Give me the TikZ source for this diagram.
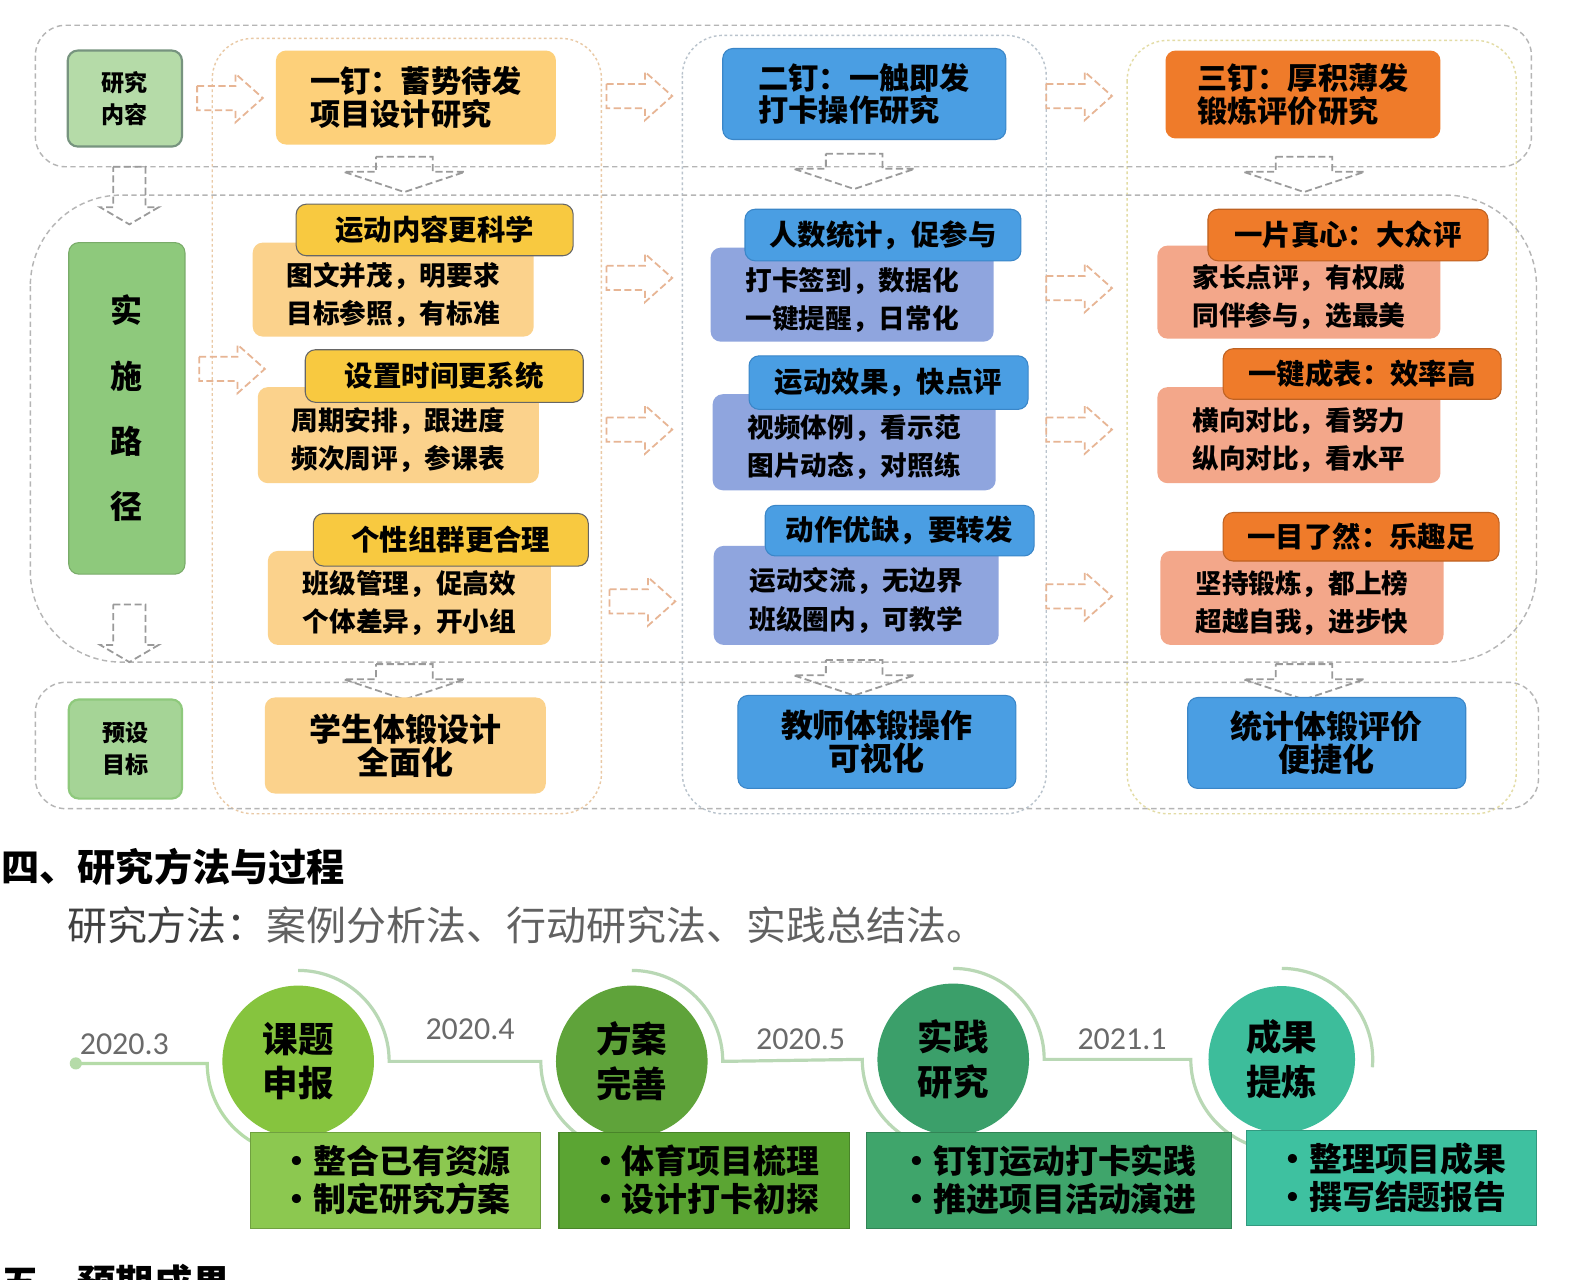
\documentclass[tikz,border=0pt]{standalone}
\usepackage{fontspec}
\setmainfont{Noto Sans CJK SC}
\newfontfamily\datefont{Carlito}
\usetikzlibrary{calc}
\definecolor{framegray}{HTML}{B5B5B5}
\definecolor{colA}{HTML}{E9C9A5}
\definecolor{colB}{HTML}{B9C3CC}
\definecolor{colC}{HTML}{E3DCA5}
\definecolor{arrowtan}{HTML}{E7B594}
\definecolor{arrowgray}{HTML}{9A9A9A}
\definecolor{greenlt}{HTML}{B5DBA8}
\definecolor{greenltb}{HTML}{77947F}
\definecolor{greenmd}{HTML}{8EC97C}
\definecolor{ylw}{HTML}{FDD07A}
\definecolor{gold}{HTML}{F8C940}
\definecolor{ltorg}{HTML}{FBD28C}
\definecolor{blu}{HTML}{4A9EE3}
\definecolor{blub}{HTML}{3A86C8}
\definecolor{peri}{HTML}{8FA5DE}
\definecolor{orng}{HTML}{EF7B2A}
\definecolor{salmon}{HTML}{F3A78A}
\definecolor{cgA}{HTML}{86C43E}
\definecolor{cgB}{HTML}{5FA33A}
\definecolor{cgC}{HTML}{3B9F6A}
\definecolor{cgD}{HTML}{3DBD9B}
\definecolor{bxA}{HTML}{8CC850}
\definecolor{bxB}{HTML}{5BA533}
\definecolor{bxC}{HTML}{3FA56B}
\definecolor{bxD}{HTML}{3EC1A0}
\definecolor{ringc}{HTML}{B9D8B5}
\definecolor{dategray}{HTML}{6A6A6A}
\newcommand\fs[2]{\fontsize{#1}{#2}\selectfont\bfseries}
\newcommand\bx[7]{\node[#6, minimum width={(#4-#2)*0.02cm}, minimum height={(#5-#3)*0.02cm}] (#1) at ({(#2+#4)/2},{(#3+#5)/2}) {#7};}
\newcommand\cx[7]{\node[#6, minimum width={(#4-#2)*0.02cm}, minimum height={(#5-#3)*0.02cm}] (#1) at ({(#2+#4)/2},{(#3+#5)/2}) {};
  \node[cnttext] (#1txt) at ($(#1.center)+(0,5)$) {#7};}
\newcommand\myRA[2]{\draw[harr] (#1,#2-12) -- (#1+38,#2-12) -- (#1+38,#2-24) -- (#1+65,#2) -- (#1+38,#2+24) -- (#1+38,#2+12) -- (#1,#2+12) -- cycle;}
\newcommand\myWDA[2]{\draw[darr] (#1-28,#2) -- (#1+28,#2) -- (#1+28,#2+15) -- (#1+60,#2+15) -- (#1,#2+35) -- (#1-60,#2+15) -- (#1-28,#2+15) -- cycle;}
\newcommand\myNDA[2]{\draw[darr] (#1-16,#2) -- (#1+16,#2) -- (#1+16,#2+40) -- (#1+29,#2+40) -- (#1,#2+57) -- (#1-29,#2+40) -- (#1-16,#2+40) -- cycle;}
\tikzset{
  rowframe/.style={draw=framegray, dash pattern=on 3pt off 2pt, line width=0.8pt},
  colframe/.style={dash pattern=on 1.5pt off 1.5pt, line width=0.8pt},
  harr/.style={draw=arrowtan, dash pattern=on 4pt off 2pt, line width=1pt},
  darr/.style={draw=arrowgray, dash pattern=on 4pt off 2pt, line width=1pt},
  box/.style={rounded corners=0.2cm, inner sep=0pt, align=center},
  greenbox/.style={box, fill=greenlt, draw=greenltb, line width=1.2pt, font={\fs{13}{18}}},
  greenbig/.style={box, fill=greenmd, draw=greenmd!85!black, line width=0.6pt, font={\fs{18}{36.8}}},
  topbox/.style={box, align=left, font={\fs{17}{18.5}}},
  ttl/.style={box, draw=black!60, line width=0.6pt, font={\fs{16}{20}}},
  cnt/.style={box},
  cnttext/.style={inner sep=0pt, align=center, font={\fs{15}{21.5}}},
  res/.style={box, font={\fs{18}{18.5}}},
  tlbox/.style={inner sep=0pt, align=center, line width=0.6pt, font={\fs{18.5}{21.5}}},
  tlcirc/.style={circle, inner sep=0pt, minimum size=3cm, align=center, font={\fs{20}{25}}},
  ring/.style={draw=ringc, line width=1.8pt},
  datelbl/.style={font={\datefont\fontsize{18}{20}\selectfont}, text=dategray}
}
\begin{document}
\begin{tikzpicture}[x=0.02cm,y=-0.02cm]
\useasboundingbox (0,0) rectangle (1568,1266);
\clip (0,0) rectangle (1568,1266);
\fill[white] (0,0) rectangle (1568,1266);

% column frames
\draw[colframe, draw=colA, rounded corners=0.8cm] (210,38) rectangle (595,805);
\draw[colframe, draw=colB, rounded corners=0.8cm] (675,35) rectangle (1035,805);
\draw[colframe, draw=colC, rounded corners=0.8cm] (1115,40) rectangle (1500,805);
% row frames
\draw[rowframe, rounded corners=0.6cm] (35,25) rectangle (1515,165);
\draw[rowframe, rounded corners=1.8cm] (30,193) rectangle (1520,655);
\draw[rowframe, rounded corners=0.6cm] (35,675) rectangle (1522,800);

% hollow arrows
\myRA{195}{97}\myRA{600}{95}\myRA{1035}{95}
\myRA{197}{365}
\myRA{600}{275}\myRA{600}{425}\myRA{603}{595}
\myRA{1035}{285}\myRA{1035}{425}\myRA{1035}{590}
\myWDA{400}{155}\myWDA{845}{152}\myWDA{1290}{155}
\myWDA{400}{657}\myWDA{845}{653}\myWDA{1290}{657}
\myNDA{128}{165}\myNDA{128}{598}

% row 1
\bx{yj}{67}{50}{180}{145}{greenbox}{研究\\内容}
\bx{d1}{273}{50}{550}{143}{topbox, fill=ylw}{一钉：蓄势待发\\项目设计研究}
\bx{d2}{715}{48}{995}{138}{topbox, fill=blu, draw=blub, line width=0.6pt}{二钉：一触即发\\打卡操作研究}
\bx{d3}{1153}{50}{1425}{137}{topbox, fill=orng}{三钉：厚积薄发\\锻炼评价研究}

% row 2
\bx{sl}{68}{240}{183}{568}{greenbig}{实\\施\\路\\径}

\cx{c11}{250}{240}{528}{333}{cnt, fill=ltorg}{图文并茂，明要求\\目标参照，有标准}
\bx{t11}{293}{202}{567}{253}{ttl, fill=gold}{运动内容更科学}
\cx{c12}{255}{383}{533}{478}{cnt, fill=ltorg}{周期安排，跟进度\\频次周评，参课表}
\bx{t12}{302}{346}{577}{398}{ttl, fill=gold}{设置时间更系统}
\cx{c13}{265}{545}{545}{638}{cnt, fill=ltorg}{班级管理，促高效\\个体差异，开小组}
\bx{t13}{310}{508}{582}{560}{ttl, fill=gold}{个性组群更合理}

\cx{c21}{703}{245}{983}{338}{cnt, fill=peri}{打卡签到，数据化\\一键提醒，日常化}
\bx{t21}{737}{207}{1010}{258}{ttl, fill=blu, draw=blub}{人数统计，促参与}
\cx{c22}{705}{390}{985}{485}{cnt, fill=peri}{视频体例，看示范\\图片动态，对照练}
\bx{t22}{741}{352}{1017}{405}{ttl, fill=blu, draw=blub}{运动效果，快点评}
\cx{c23}{706}{540}{988}{638}{cnt, fill=peri}{运动交流，无边界\\班级圈内，可教学}
\bx{t23}{757}{500}{1023}{550}{ttl, fill=blu, draw=blub}{动作优缺，要转发}

\cx{c31}{1145}{243}{1425}{335}{cnt, fill=salmon}{家长点评，有权威\\同伴参与，选最美}
\bx{t31}{1195}{207}{1472}{258}{ttl, fill=orng, draw=orng!80!black}{一片真心：大众评}
\cx{c32}{1145}{383}{1425}{478}{cnt, fill=salmon}{横向对比，看努力\\纵向对比，看水平}
\bx{t32}{1210}{345}{1485}{395}{ttl, fill=orng, draw=orng!80!black}{一键成表：效率高}
\cx{c33}{1148}{545}{1428}{638}{cnt, fill=salmon}{坚持锻炼，都上榜\\超越自我，进步快}
\bx{t33}{1210}{507}{1483}{555}{ttl, fill=orng, draw=orng!80!black}{一目了然：乐趣足}

% row 3
\bx{ys}{68}{692}{180}{790}{greenbox, fill=greenmd!80!white, draw=greenmd}{预设\\目标}
\bx{r1}{262}{690}{540}{785}{res, fill=ltorg}{学生体锻设计\\全面化}
\bx{r2}{730}{688}{1005}{780}{res, fill=blu, draw=blub, line width=0.6pt}{教师体锻操作\\可视化}
\bx{r3}{1175}{690}{1450}{780}{res, fill=blu, draw=blub, line width=0.6pt}{统计体锻评价\\便捷化}

% section text
\node[anchor=west, inner sep=0pt, font={\fs{21.5}{24}}] (sec4) at (1,858) {四、研究方法与过程};
\node[anchor=west, inner sep=0pt, font={\fontsize{22.5}{25}\selectfont}, text=black!62] (meth) at (66,915) {\textcolor{black!75}{研究方法：}案例分析法、行动研究法、实践总结法。};
\node[anchor=north west, inner sep=0pt, font={\fs{21.5}{24}}] (sec5) at (1,1250) {五、预期成果};

% timeline rings
\coordinate (k1) at (295,1050);
\coordinate (k2) at (625,1050);
\coordinate (k3) at (943,1048);
\coordinate (k4) at (1268,1048);
\coordinate (st) at (75,1052);
\draw[ring, draw=greenlt] (st) -- ($(k1)+(-90,2)$) arc[start angle=180, end angle=270, radius=1.8cm];
\fill[greenlt] (st) circle (6);
\draw[ring] ($(k1)+(0,-90)$) arc[start angle=90, end angle=0, radius=1.8cm] -- ($(k2)+(-90,0)$) arc[start angle=180, end angle=270, radius=1.8cm];
\draw[ring] ($(k2)+(0,-90)$) arc[start angle=90, end angle=0, radius=1.8cm] -- ($(k3)+(-90,0)$) arc[start angle=180, end angle=270, radius=1.8cm];
\draw[ring] ($(k3)+(0,-90)$) arc[start angle=90, end angle=0, radius=1.8cm] -- ($(k4)+(-90,0)$) arc[start angle=180, end angle=270, radius=1.8cm];
\draw[ring] ($(k4)+(0,-90)$) arc[start angle=90, end angle=-5, radius=1.8cm];

\node[tlcirc, fill=cgA] (kc1) at (k1) {课题\\申报};
\node[tlcirc, fill=cgB] (kc2) at (k2) {方案\\完善};
\node[tlcirc, fill=cgC] (kc3) at (k3) {实践\\研究};
\node[tlcirc, fill=cgD, minimum size=2.9cm] (kc4) at (k4) {成果\\提炼};

\node[datelbl] (dt1) at (123,1033) {2020.3};
\node[datelbl] (dt2) at (465,1018) {2020.4};
\node[datelbl] (dt3) at (792,1028) {2020.5};
\node[datelbl] (dt4) at (1110,1028) {2021.1};

\bx{b1}{248}{1120}{535}{1215}{tlbox, fill=bxA, draw=bxA!80!black}{•整合已有资源\\•制定研究方案}
\bx{b2}{553}{1120}{840}{1215}{tlbox, fill=bxB, draw=bxB!80!black}{•体育项目梳理\\•设计打卡初探}
\bx{b3}{857}{1120}{1218}{1215}{tlbox, fill=bxC, draw=bxC!80!black}{•钉钉运动打卡实践\\•推进项目活动演进}
\bx{b4}{1233}{1118}{1520}{1212}{tlbox, fill=bxD, draw=bxD!80!black}{•整理项目成果\\•撰写结题报告}
\end{tikzpicture}
\end{document}
